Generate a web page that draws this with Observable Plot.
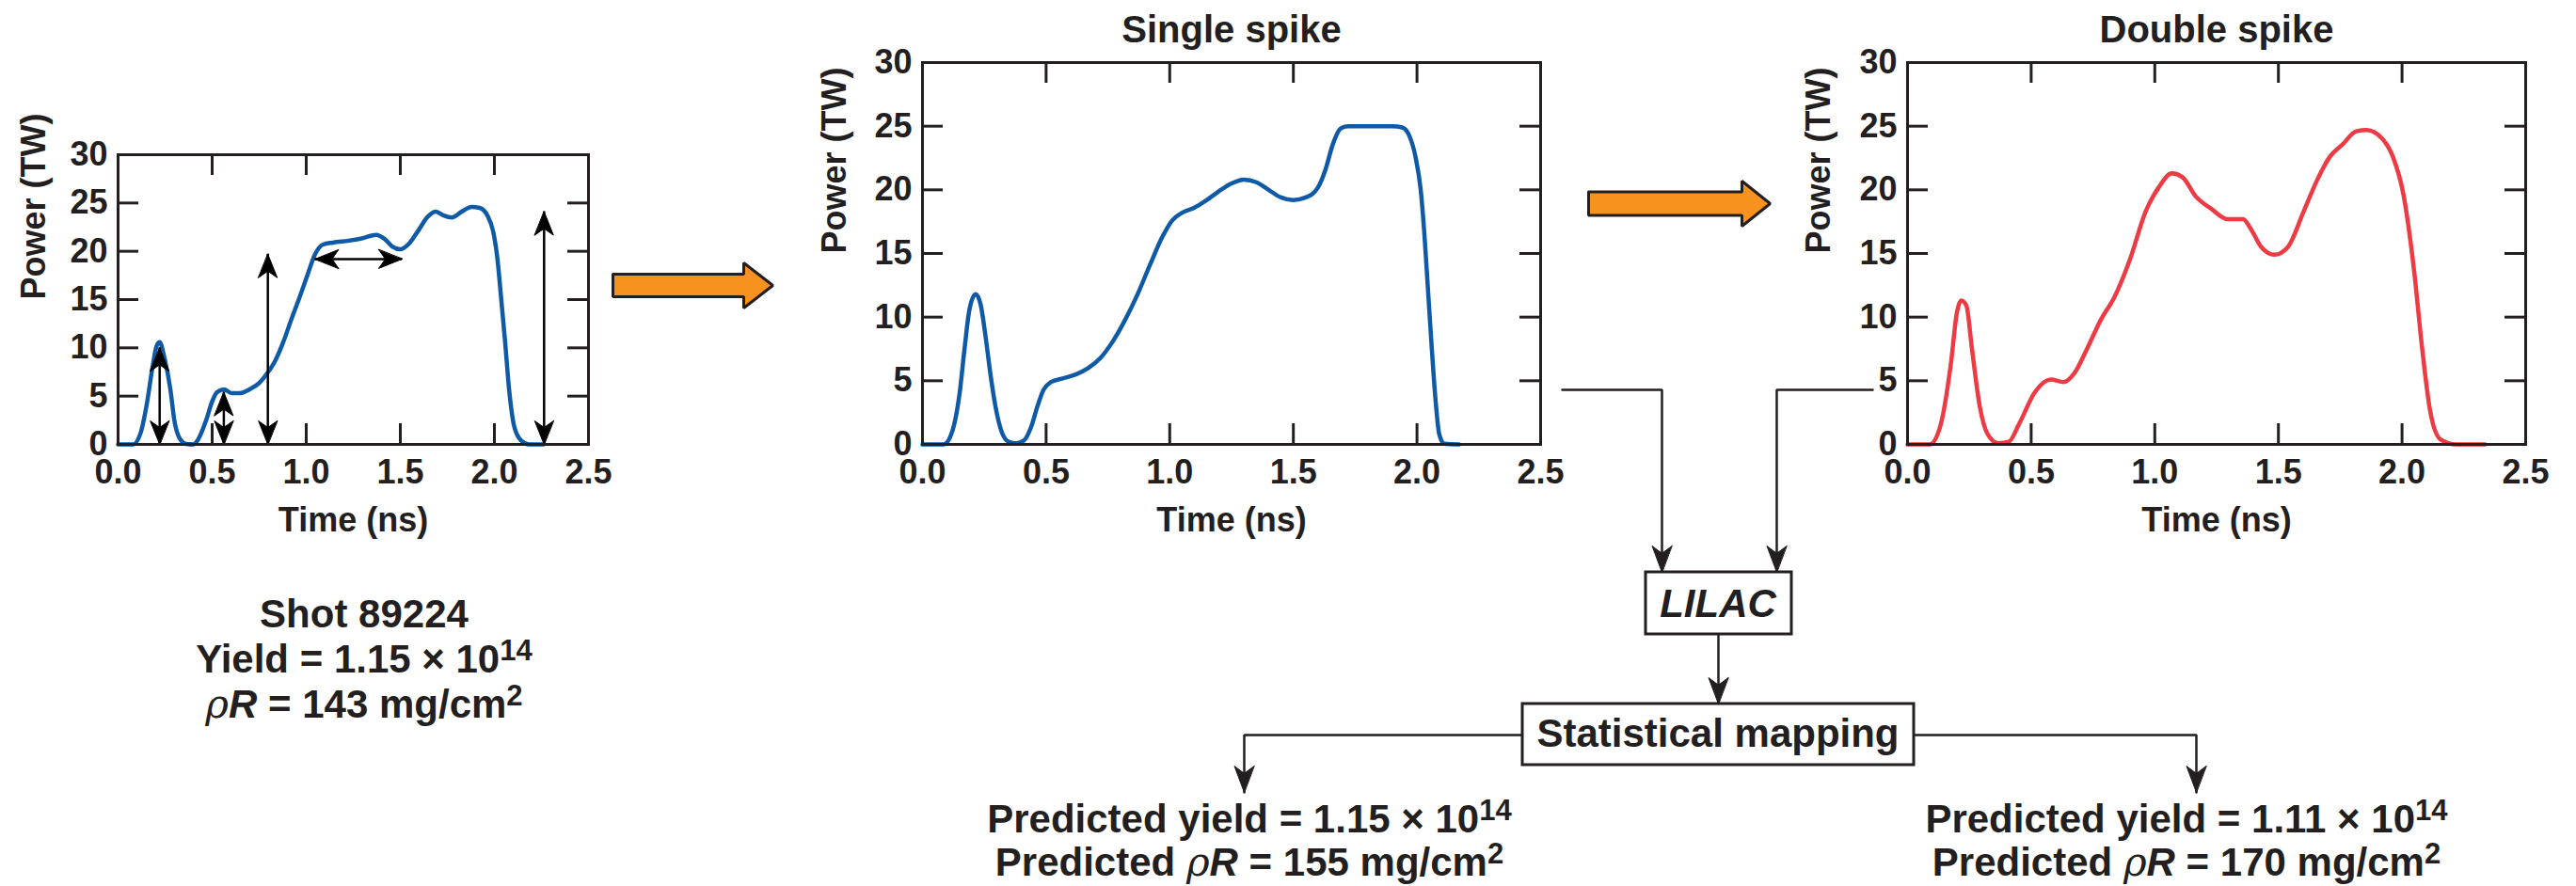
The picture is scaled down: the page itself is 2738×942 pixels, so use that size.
<!DOCTYPE html>
<html>
<head>
<meta charset="utf-8">
<script src="https://cdn.jsdelivr.net/npm/d3@7"></script>
<script src="https://cdn.jsdelivr.net/npm/@observablehq/plot@0.6"></script>
<style>
  html, body { margin: 0; padding: 0; background: #fff; overflow: hidden; }
  #page { position: relative; width: 2738px; height: 942px; background: #fff; }
  #page > svg, #page > figure { position: absolute; margin: 0; }
</style>
</head>
<body>
<div id="page"></div>
<script>
// ---------------- DATA ----------------
const ticksX = [0, 0.5, 1.0, 1.5, 2.0, 2.5];
const ticksY = [0, 5, 10, 15, 20, 25, 30];

// Shot 89224 measured pulse
const shotTime = [0, 0.08, 0.12, 0.152, 0.183, 0.205, 0.221, 0.246, 0.278, 0.299, 0.331, 0.362, 0.40, 0.425, 0.468, 0.499, 0.526, 0.562, 0.604, 0.646, 0.699, 0.752, 0.794, 0.836, 0.878, 0.92, 0.962, 1.004, 1.047, 1.089, 1.141, 1.226, 1.289, 1.373, 1.415, 1.457, 1.5, 1.542, 1.594, 1.647, 1.689, 1.731, 1.773, 1.826, 1.879, 1.921, 1.963, 1.994, 2.015, 2.036, 2.057, 2.078, 2.106, 2.142, 2.184, 2.262];
const shotPower = [0, 0, 1.2, 4.1, 8.0, 10.2, 10.6, 9.0, 5.7, 2.5, 0.5, 0.05, 0, 0.5, 2.5, 4.4, 5.4, 5.7, 5.3, 5.3, 5.7, 6.4, 7.4, 8.7, 10.6, 12.9, 15.1, 17.4, 19.7, 20.7, 20.9, 21.1, 21.3, 21.7, 21.3, 20.5, 20.2, 20.7, 22.1, 23.6, 24.1, 23.7, 23.5, 24.1, 24.6, 24.5, 23.7, 22.0, 19.4, 15.1, 10.6, 5.7, 1.8, 0.4, 0, 0];

// Single-spike design
const singleTime = [0, 0.086, 0.12, 0.15, 0.17, 0.19, 0.215, 0.235, 0.255, 0.275, 0.295, 0.32, 0.35, 0.38, 0.41, 0.44, 0.465, 0.49, 0.52, 0.57, 0.62, 0.67, 0.72, 0.77, 0.82, 0.87, 0.92, 0.97, 1.01, 1.05, 1.10, 1.15, 1.20, 1.25, 1.30, 1.35, 1.40, 1.45, 1.50, 1.55, 1.60, 1.63, 1.66, 1.69, 1.72, 1.80, 1.90, 1.94, 1.97, 1.995, 2.015, 2.03, 2.045, 2.06, 2.075, 2.09, 2.11, 2.17];
const singlePower = [0, 0, 1.0, 4.0, 7.5, 10.6, 11.8, 11.0, 8.5, 5.5, 3.0, 1.0, 0.2, 0.1, 0.3, 1.4, 3.0, 4.3, 4.9, 5.2, 5.5, 6.0, 6.8, 8.1, 9.8, 11.8, 14.1, 16.3, 17.6, 18.2, 18.6, 19.2, 19.9, 20.5, 20.8, 20.6, 20.0, 19.4, 19.2, 19.4, 20.2, 21.6, 23.6, 24.8, 25.0, 25.0, 25.0, 24.9, 24.2, 22.5, 20.0, 16.5, 12.0, 7.5, 3.5, 0.8, 0.05, 0];

// Double-spike design
const doubleTime = [0, 0.089, 0.132, 0.175, 0.20, 0.217, 0.238, 0.26, 0.292, 0.324, 0.366, 0.409, 0.451, 0.515, 0.579, 0.632, 0.675, 0.728, 0.782, 0.835, 0.899, 0.963, 1.016, 1.069, 1.112, 1.165, 1.229, 1.293, 1.357, 1.389, 1.431, 1.484, 1.538, 1.602, 1.655, 1.708, 1.761, 1.814, 1.857, 1.921, 1.963, 2.006, 2.049, 2.081, 2.113, 2.155, 2.219, 2.336];
const doublePower = [0, 0, 1.4, 6.3, 10.4, 11.3, 10.9, 7.6, 3.0, 0.8, 0.1, 0.2, 1.6, 4.1, 5.1, 4.9, 5.6, 7.6, 9.8, 11.5, 14.5, 18.3, 20.2, 21.3, 21.0, 19.5, 18.5, 17.7, 17.7, 16.9, 15.5, 14.9, 15.5, 18.3, 20.7, 22.6, 23.6, 24.6, 24.7, 24.0, 22.6, 19.6, 13.6, 7.6, 2.7, 0.4, 0, 0];

// Double-headed annotation arrows on the shot pulse
const arrowVTime = [0.221, 0.562, 0.796, 2.264];
const arrowVTop = [10.0, 5.4, 19.7, 24.1];
const arrowHPower = [19.2];
const arrowHStart = [1.047];
const arrowHEnd = [1.51];

// Text
const shotName = "Shot 89224";
const shotYield = "1.15";
const shotRhoR = "143";
const predYield = ["1.15", "1.11"];
const predRhoR = ["155", "170"];
const yieldExp = "14";
const panelTitles = ["Single spike", "Double spike"];

// ---------------- STYLE / LAYOUT ----------------
const FONT = "'Liberation Sans', Arial, Helvetica, sans-serif";
const INK = "#231f20";
const BLUE = "#0e5aa6";
const RED = "#ee3a43";
const ORANGE = "#f7921e";

const page = document.getElementById("page");

const stealth = {
  draw(ctx, l, r) {
    ctx.moveTo(0, -l);
    ctx.lineTo(r, 0);
    ctx.lineTo(0, -l * 0.28);
    ctx.lineTo(-r, 0);
    ctx.closePath();
  }
};

function rows(ts, ps) { return ts.map((t, i) => ({t, p: ps[i]})); }

function panel({data, color, title, frame, ml, mr, mt, mb, labelDx, extra = []}) {
  const fw = frame.x2 - frame.x1, fh = frame.y2 - frame.y1;
  const marks = [
    Plot.tickY(ticksY, {y: d => d, insetRight: fw - 22, stroke: INK, strokeWidth: 3}),
    Plot.tickY(ticksY, {y: d => d, insetLeft: fw - 22, stroke: INK, strokeWidth: 3}),
    Plot.tickX(ticksX, {x: d => d, insetTop: fh - 22, stroke: INK, strokeWidth: 3}),
    Plot.tickX(ticksX, {x: d => d, insetBottom: fh - 22, stroke: INK, strokeWidth: 3}),
    Plot.axisX(ticksX, {tickSize: 0, tickPadding: 16, tickFormat: d3.format(".1f"), label: null, fontSize: 36, fill: INK}),
    Plot.axisY(ticksY, {tickSize: 0, tickPadding: 11, label: null, fontSize: 36, fill: INK}),
    Plot.text(["Time (ns)"], {text: d => d, frameAnchor: "bottom", lineAnchor: "bottom", dy: 92, fontSize: 36, fill: INK}),
    Plot.text(["Power (TW)"], {text: d => d, frameAnchor: "left", rotate: -90, dx: labelDx, fontSize: 36, fill: INK}),
    Plot.line(data, {x: "t", y: "p", stroke: color, strokeWidth: 4.5, curve: "monotone-x", strokeLinejoin: "round"}),
    ...extra,
    Plot.frame({stroke: INK, strokeWidth: 3})
  ];
  if (title) marks.push(Plot.text([title], {text: d => d, frameAnchor: "top", lineAnchor: "bottom", dy: -22, fontSize: 40, fill: INK}));
  const svg = Plot.plot({
    width: fw + ml + mr,
    height: fh + mt + mb,
    marginLeft: ml, marginRight: mr, marginTop: mt, marginBottom: mb,
    x: {domain: [0, 2.5], axis: null},
    y: {domain: [0, 30], axis: null},
    style: {fontFamily: FONT, fontWeight: "bold", background: "transparent", overflow: "visible", color: INK},
    marks
  });
  svg.style.left = (frame.x1 - ml) + "px";
  svg.style.top = (frame.y1 - mt) + "px";
  return svg;
}

// ---------------- DIAGRAM (page level) ----------------
const L = {
  orange1: {x0: 651, x1: 790, x2: 821, yc: 303, body: 12, head: 24},
  orange2: {x0: 1688, x1: 1851, x2: 1881, yc: 216, body: 12.5, head: 24},
  lilac: {x1: 1749, x2: 1904, y1: 608, y2: 674},
  stat: {x1: 1618, x2: 2034, y1: 748, y2: 813},
  connY: 414, connLeftStart: 1660, connLeftX: 1766, connRightStart: 1990, connRightX: 1888,
  lilacX: 1826, branchY: 781, branchL: 1322, branchR: 2334, branchTip: 842
};

function orangePoly(o, id) {
  return [
    [o.x0, o.yc - o.body], [o.x1, o.yc - o.body], [o.x1, o.yc - o.head], [o.x2, o.yc],
    [o.x1, o.yc + o.head], [o.x1, o.yc + o.body], [o.x0, o.yc + o.body], [o.x0, o.yc - o.body]
  ].map(([x, y]) => ({x, y, id}));
}
const orangePts = [...orangePoly(L.orange1, "a"), ...orangePoly(L.orange2, "b")];
const connectors = [
  [[L.connLeftStart, L.connY], [L.connLeftX, L.connY], [L.connLeftX, L.lilac.y1]],
  [[L.connRightStart, L.connY], [L.connRightX, L.connY], [L.connRightX, L.lilac.y1]],
  [[L.lilacX, L.lilac.y2], [L.lilacX, L.stat.y1]],
  [[L.stat.x1, L.branchY], [L.branchL, L.branchY], [L.branchL, L.branchTip]],
  [[L.stat.x2, L.branchY], [L.branchR, L.branchY], [L.branchR, L.branchTip]]
].flatMap((c, i) => c.map(([x, y]) => ({x, y, id: i})));
const tips = [
  {x: L.connLeftX, y: L.lilac.y1}, {x: L.connRightX, y: L.lilac.y1},
  {x: L.lilacX, y: L.stat.y1}, {x: L.branchL, y: L.branchTip}, {x: L.branchR, y: L.branchTip}
];
const boxes = [L.lilac, L.stat];

const diagram = Plot.plot({
  width: 2738, height: 942, margin: 0,
  x: {type: "identity", axis: null},
  y: {type: "identity", axis: null},
  style: {fontFamily: FONT, background: "transparent"},
  marks: [
    Plot.line(orangePts, {x: "x", y: "y", z: "id", fill: ORANGE, stroke: INK, strokeWidth: 3, strokeLinejoin: "miter", curve: "linear"}),
    Plot.line(connectors, {x: "x", y: "y", z: "id", stroke: INK, strokeWidth: 2.5, strokeLinejoin: "miter", curve: "linear"}),
    Plot.rect(boxes, {x1: "x1", x2: "x2", y1: "y1", y2: "y2", fill: "white", stroke: INK, strokeWidth: 3}),
    Plot.vector(tips, {x: "x", y: "y", rotate: 180, length: 28, anchor: "end", shape: stealth, r: 10.5, fill: INK, stroke: INK, strokeWidth: 1})
  ]
});
diagram.style.left = "0px";
diagram.style.top = "0px";
page.appendChild(diagram);

// rich text lines
const svgD = d3.select(diagram);
function rich(x, y, parts, size = 42) {
  const t = svgD.append("text").attr("x", x).attr("y", y).attr("text-anchor", "middle")
    .attr("font-family", FONT).attr("font-weight", "bold").attr("font-size", size).attr("fill", INK);
  let raised = false;
  parts.forEach(p => {
    const s = t.append("tspan").text(p.t);
    if (p.sup) { s.attr("font-size", size * 0.74).attr("dy", -size * 0.32); raised = true; }
    else if (raised) { s.attr("dy", size * 0.32); raised = false; }
    if (p.it) s.attr("font-style", "italic");
    if (p.rho) s.attr("font-style", "italic").attr("font-weight", "normal").attr("font-family", "'DejaVu Serif', serif");
  });
  return t;
}
const shotX = 387;
rich(shotX, 667, [{t: shotName}]);
rich(shotX, 715, [{t: "Yield = " + shotYield + " \u00d7 10"}, {t: yieldExp, sup: true}]);
rich(shotX, 763, [{t: "\u03c1", rho: true}, {t: "R", it: true}, {t: " = " + shotRhoR + " mg/cm"}, {t: "2", sup: true}]);
rich(L.lilacX, 656, [{t: "LILAC", it: true}]);
rich(L.lilacX, 794, [{t: "Statistical mapping"}]);
[1328, 2324].forEach((cx, i) => {
  rich(cx, 885, [{t: "Predicted yield = " + predYield[i] + " \u00d7 10"}, {t: yieldExp, sup: true}]);
  rich(cx, 931, [{t: "Predicted "}, {t: "\u03c1", rho: true}, {t: "R", it: true}, {t: " = " + predRhoR[i] + " mg/cm"}, {t: "2", sup: true}]);
});

// ---------------- PANELS ----------------
const arrowShafts = arrowVTime.map((t, i) => ({t, y1: 0, y2: arrowVTop[i]}));
const arrowHShafts = arrowHPower.map((p, i) => ({p, t1: arrowHStart[i], t2: arrowHEnd[i]}));
const heads = [
  ...arrowShafts.flatMap(a => [{t: a.t, p: a.y2, rot: 0}, {t: a.t, p: a.y1, rot: 180}]),
  ...arrowHShafts.flatMap(a => [{t: a.t2, p: a.p, rot: 90}, {t: a.t1, p: a.p, rot: -90}])
];

const p1 = panel({
  data: rows(shotTime, shotPower), color: BLUE, title: null,
  frame: {x1: 125, x2: 625, y1: 164, y2: 472}, ml: 125, mr: 40, mt: 20, mb: 110, labelDx: -89,
  extra: [
    Plot.ruleX(arrowShafts, {x: "t", y1: "y1", y2: "y2", stroke: "#000", strokeWidth: 2.5}),
    Plot.ruleY(arrowHShafts, {y: "p", x1: "t1", x2: "t2", stroke: "#000", strokeWidth: 2.5}),
    Plot.vector(heads, {x: "t", y: "p", rotate: "rot", length: 25, anchor: "end", shape: stealth, r: 10, fill: "#000", stroke: "#000", strokeWidth: 1})
  ]
});
page.appendChild(p1);

const p2 = panel({
  data: rows(singleTime, singlePower), color: BLUE, title: panelTitles[0],
  frame: {x1: 980, x2: 1637, y1: 66, y2: 472}, ml: 140, mr: 40, mt: 66, mb: 110, labelDx: -93
});
page.appendChild(p2);

const p3 = panel({
  data: rows(doubleTime, doublePower), color: RED, title: panelTitles[1],
  frame: {x1: 2027, x2: 2684, y1: 66, y2: 472}, ml: 140, mr: 40, mt: 66, mb: 110, labelDx: -94
});
page.appendChild(p3);
</script>
</body>
</html>
